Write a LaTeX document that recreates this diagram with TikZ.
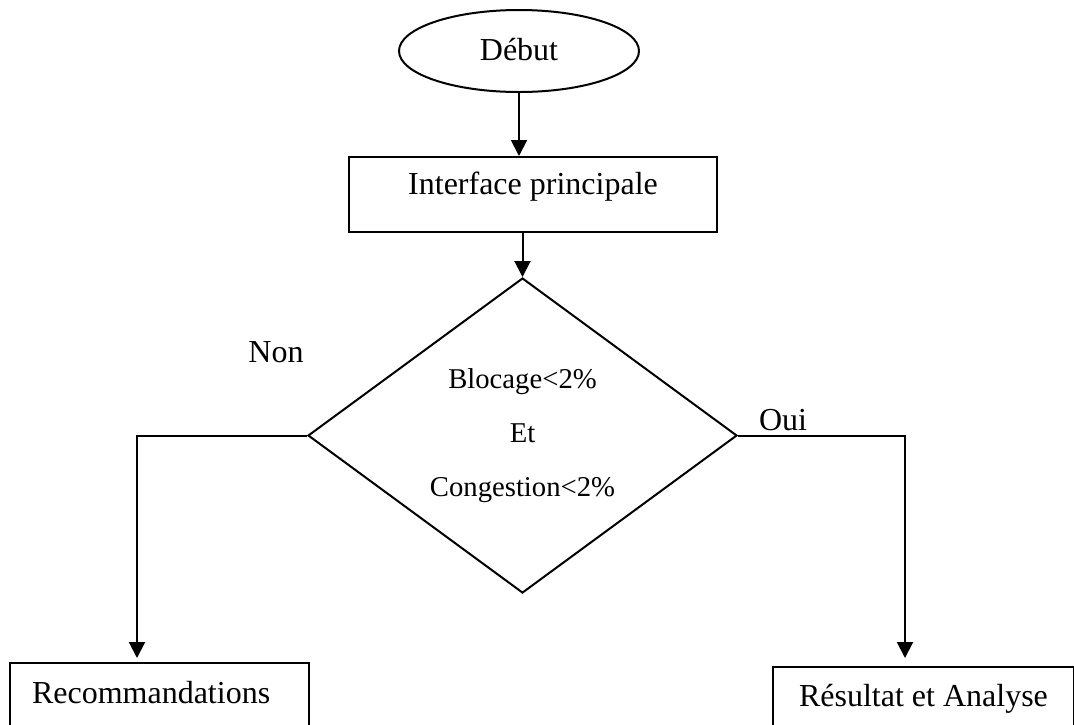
\documentclass[tikz,border=0pt]{standalone}
\usepackage{fontspec}
\setmainfont{Liberation Serif}
\usetikzlibrary{shapes.geometric,arrows.meta}
\begin{document}
\begin{tikzpicture}[x=1pt,y=-1pt,
  line width=2pt,
  flow/.style={-{Triangle[length=16pt,width=16pt]}},
  big/.style={font=\fontsize{32}{38}\selectfont},
  smalltxt/.style={font=\fontsize{28.7}{54}\selectfont},
  startbox/.style={draw, ellipse, inner sep=0pt, big, text height=22pt, text depth=4pt},
  procbox/.style={draw, rectangle, inner sep=0pt, big},
  decision/.style={draw, diamond, inner sep=0pt},
  endbox/.style={draw, rectangle, anchor=north west, big, text height=22pt, text depth=40pt}
]
\clip (0,0) rectangle (1074,724);

% start
\node[startbox, minimum width=240pt, minimum height=82pt] (debut) at (519,51) {Début};

% main interface
\node[procbox, minimum width=368pt, minimum height=75pt,
      text height=22pt, text depth=22pt] (iface) at (533,194.5) {Interface principale};

% test
\node[decision, minimum width=429pt, minimum height=315pt] (test) at (522.5,435.5) {};
\node[smalltxt, align=center] (cond) at (test.center) {Blocage<2\%\\Et\\Congestion<2\%};

% outcomes
\node[endbox, inner xsep=22pt, inner ysep=18pt, text width=255pt, align=left] (reco) at (9,662) {Recommandations};
\node[endbox, inner xsep=0pt, inner ysep=17pt, minimum width=301pt] (res) at (772,666) {Résultat et Analyse};

% branch labels
\node[big, anchor=base] (non) at (276,362) {Non};
\node[big, anchor=base] (oui) at (783,430) {Oui};

% connectors
\draw[flow] (debut.south) -- (debut.south |- iface.north);
\draw[flow] (test.north |- iface.south) -- (test.north);
\draw[flow, shorten >=4pt] (test.west) -| ([xshift=-22.5pt]reco.north);
\draw[flow, shorten >=8pt] (test.east) -| ([xshift=-18.5pt]res.north);
\end{tikzpicture}
\end{document}
